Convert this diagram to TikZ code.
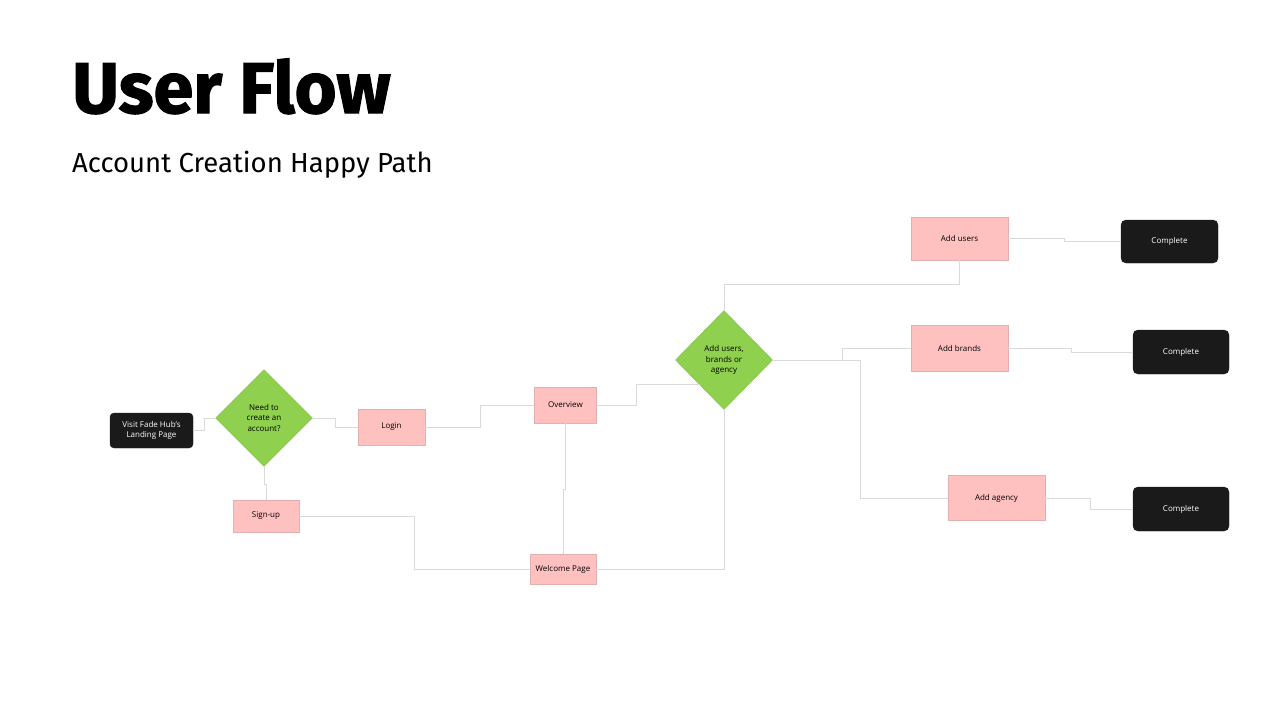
\documentclass[tikz,border=0pt]{standalone}
\usepackage{fontspec}
\setmainfont{Open Sans}
\newfontfamily\headfont{Fira Sans}[BoldFeatures={FakeBold=1.6}]
\usepackage{xcolor}
\usepackage{tikz}
\usetikzlibrary{shapes.geometric}
\definecolor{pagepink}{HTML}{FFC0C0}
\definecolor{pageedge}{HTML}{E3AFAF}
\definecolor{choicegreen}{HTML}{8FD14F}
\definecolor{choiceedge}{HTML}{7DBA45}
\definecolor{endblack}{HTML}{1A1A1A}
\definecolor{linkgray}{HTML}{DADADA}

\begin{document}
\begin{tikzpicture}[
    x=1pt, y=-1pt,
    page/.style={draw=pageedge, fill=pagepink, align=center, inner sep=0pt, minimum width=66pt, minimum height=34pt, font=\fontsize{8}{10}\selectfont},
    choice/.style={diamond, draw=choiceedge, fill=choicegreen, align=center, inner sep=0pt, minimum width=97pt, minimum height=97pt, font=\fontsize{8}{10.5}\selectfont},
    endpoint/.style={draw=endblack, fill=endblack, text=white, rounded corners=5pt, align=center, inner sep=0pt, minimum width=96pt, minimum height=44pt, font=\fontsize{8}{10.5}\selectfont},
    link/.style={draw=linkgray, line width=0.9pt}
]
\useasboundingbox (0,0) rectangle (1280,720);

\node[anchor=base west, inner sep=0pt, font=\headfont\bfseries\fontsize{72}{76}\selectfont] at (72,113) (title) {User Flow};
\node[anchor=base west, inner sep=0pt, font=\headfont\fontsize{27.5}{30}\selectfont] at (72,172) (subtitle) {Account Creation Happy Path};

\node[endpoint, minimum width=83pt, minimum height=35pt, rounded corners=4pt] at (151.5,430.5) (landing) {Visit Fade Hub's\\Landing Page};
\node[choice] at (264,418) (needacc) {Need to\\create an\\account?};
\node[page, minimum width=67pt, minimum height=36pt] at (391.5,427) (login) {Login};
\node[page, minimum height=32pt] at (266,516) (signup) {Sign-up};
\node[page, minimum width=62pt, minimum height=36pt] at (565.5,405) (overview) {Overview};
\node[page, minimum height=30pt] at (563,569) (welcome) {Welcome Page};
\node[choice, minimum height=99pt] at (724,360) (addwhat) {Add users,\\brands or\\agency};

\node[page, minimum width=97pt, minimum height=43pt] at (959.5,238.5) (addusers) {Add users};
\node[page, minimum width=97pt, minimum height=46pt] at (959.5,348) (addbrands) {Add brands};
\node[page, minimum width=97pt, minimum height=45pt] at (996.5,498) (addagency) {Add agency};

\node[endpoint, minimum width=97pt, minimum height=43pt] at (1169.5,241.5) (doneusers) {Complete};
\node[endpoint] at (1181,352) (donebrands) {Complete};
\node[endpoint] at (1181,509) (doneagency) {Complete};

\draw[link] (landing.east) -- (204,430.5) |- (needacc.west);
\draw[link] (needacc.east) -- (335,418) |- (login.west);
\draw[link] (needacc.south) -- (264,484) -| (signup.north);
\draw[link] (signup.east) -- (414,516) |- (welcome.west);
\draw[link] (login.east) -- (480,427) |- (overview.west);
\draw[link] (overview.south) -- (565.5,489) -| (welcome.north);
\draw[link] (overview.east) -- (636,405) |- (addwhat.south west);
\draw[link] (welcome.east) -| (addwhat.south);
\draw[link] (addwhat.north) -- (724,284) -| (addusers.south);
\draw[link] (addwhat.east) -- (842,360) |- (addbrands.west);
\draw[link] (addwhat.east) -- (860,360) |- (addagency.west);
\draw[link] (addusers.east) -- (1064,238.5) |- (doneusers.west);
\draw[link] (addbrands.east) -- (1071,348) |- (donebrands.west);
\draw[link] (addagency.east) -- (1090,498) |- (doneagency.west);
\end{tikzpicture}
\end{document}
